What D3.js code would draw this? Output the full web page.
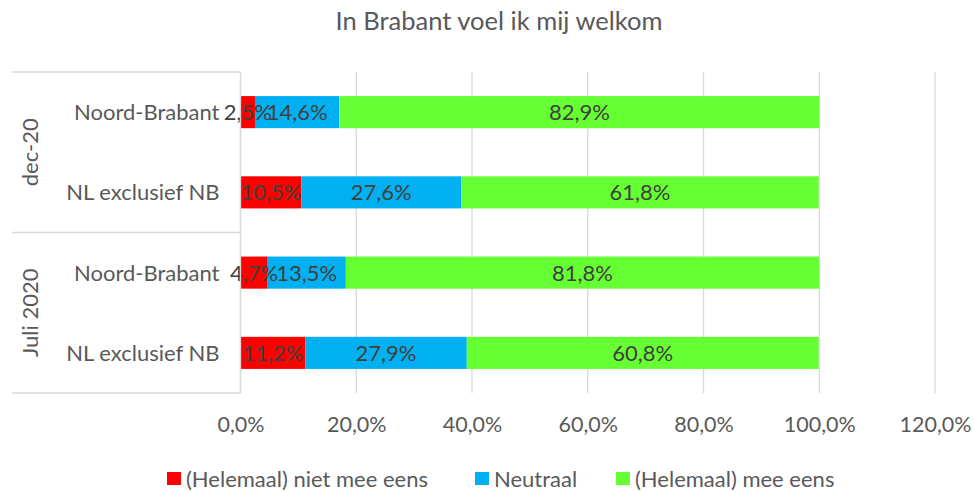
<!DOCTYPE html>
<html>
<head>
<meta charset="utf-8">
<script src="https://cdn.jsdelivr.net/npm/d3@7"></script>
<style>
  body { margin: 0; background: #fff; }
  svg text { font-family: Lato, "Open Sans", sans-serif; }
</style>
</head>
<body>
<svg id="svg1" width="974" height="492"></svg>
<script>
// chart data
let groups = ["dec-20", "Juli 2020"];
let regions = ["Noord-Brabant", "NL exclusief NB"];
let seriesNames = ["(Helemaal) niet mee eens", "Neutraal", "(Helemaal) mee eens"];
let seriesColors = ["#FF0000", "#00B0F0", "#66FF33"];
let nietEens = [2.5, 10.5, 4.7, 11.2];
let neutraal = [14.6, 27.6, 13.5, 27.9];
let meeEens = [82.9, 61.8, 81.8, 60.8];
let xTicks = [0, 20, 40, 60, 80, 100, 120];

let rows = [];
groups.forEach((g, gi) => {
  regions.forEach((r, ri) => {
    let i = gi * regions.length + ri;
    rows.push({key: g + "|" + r, group: g, region: r, values: [nietEens[i], neutraal[i], meeEens[i]]});
  });
});

let svg = d3.select("#svg1");
let margin = {top: 72, left: 240.5, right: 39, bottom: 99};
let width = 974 - margin.left - margin.right;
let height = 492 - margin.top - margin.bottom;

let x = d3.scaleLinear().domain([0, 120]).range([0, width]);
let y = d3.scaleBand().domain(rows.map(d => d.key)).range([0, height]).paddingInner(0.6).paddingOuter(0.3);

let g = svg.append("g").attr("transform", `translate(${margin.left},${margin.top})`);

let fmt = v => d3.format(".1f")(v).replace(".", ",") + "%";

// title
svg.append("text")
  .attr("x", 499).attr("y", 30)
  .attr("text-anchor", "middle")
  .style("font-size", "25.5px")
  .style("fill", "#595959")
  .text("In Brabant voel ik mij welkom");

// gridlines
g.append("g")
  .selectAll("line")
  .data(xTicks)
  .enter().append("line")
    .attr("x1", d => x(d)).attr("x2", d => x(d))
    .attr("y1", 0).attr("y2", height)
    .attr("stroke", "#d9d9d9").attr("stroke-width", 1.3);

// x axis labels
let xAxis = g.append("g")
  .attr("transform", `translate(0,${height})`)
  .call(d3.axisBottom(x).tickValues(xTicks).tickSize(0).tickPadding(24).tickFormat(fmt));
xAxis.select(".domain").remove();
xAxis.selectAll(".tick text")
  .style("font-size", "21.5px")
  .style("fill", "#595959")
  .style("font-family", "Lato, 'Open Sans', sans-serif");

// stacked bars
let stack = rows.map(d => {
  let acc = 0;
  return d.values.map((v, si) => {
    let s = {row: d, si: si, x0: acc, x1: acc + v, v: v};
    acc += v;
    return s;
  });
}).flat();

g.selectAll(".bar")
  .data(stack)
  .enter().append("rect")
    .attr("class", "bar")
    .attr("x", d => x(d.x0))
    .attr("y", d => y(d.row.key))
    .attr("width", d => x(d.x1) - x(d.x0))
    .attr("height", y.bandwidth())
    .attr("fill", d => seriesColors[d.si]);

g.selectAll(".lbl")
  .data(stack)
  .enter().append("text")
    .attr("class", "lbl")
    .attr("x", d => x((d.x0 + d.x1) / 2))
    .attr("y", d => y(d.row.key) + y.bandwidth() / 2)
    .attr("dy", "0.36em")
    .attr("text-anchor", "middle")
    .style("font-size", "22px")
    .style("fill", "#404040")
    .text(d => fmt(d.v));

// category axis: vertical line + group separators
g.append("line")
  .attr("x1", 0).attr("x2", 0).attr("y1", 0).attr("y2", height)
  .attr("stroke", "#d9d9d9").attr("stroke-width", 1.3);

let groupH = height / groups.length;
g.selectAll(".sep")
  .data(d3.range(groups.length + 1))
  .enter().append("line")
    .attr("x1", 12 - margin.left).attr("x2", 0)
    .attr("y1", d => d * groupH).attr("y2", d => d * groupH)
    .attr("stroke", "#d9d9d9").attr("stroke-width", 1.3);

// region labels
g.selectAll(".reg")
  .data(rows)
  .enter().append("text")
    .attr("x", -21)
    .attr("y", d => y(d.key) + y.bandwidth() / 2)
    .attr("dy", "0.36em")
    .attr("text-anchor", "end")
    .style("font-size", "22px")
    .style("fill", "#595959")
    .text(d => d.region);

// group labels (rotated)
g.selectAll(".grp")
  .data(groups)
  .enter().append("text")
    .attr("transform", (d, i) => `translate(${38 - margin.left},${(i + 0.5) * groupH}) rotate(-90)`)
    .attr("text-anchor", "middle")
    .style("font-size", "22px")
    .style("fill", "#595959")
    .text(d => d);

// legend
let legendX = [167, 475, 616];
let legend = svg.append("g").attr("transform", "translate(0,479)");
seriesNames.forEach((s, i) => {
  legend.append("rect")
    .attr("x", legendX[i]).attr("y", -7)
    .attr("width", 14).attr("height", 13)
    .attr("fill", seriesColors[i]);
  legend.append("text")
    .attr("x", legendX[i] + 19).attr("y", 0)
    .attr("dy", "0.36em")
    .style("font-size", "22px")
    .style("fill", "#595959")
    .text(s);
});
</script>
</body>
</html>
